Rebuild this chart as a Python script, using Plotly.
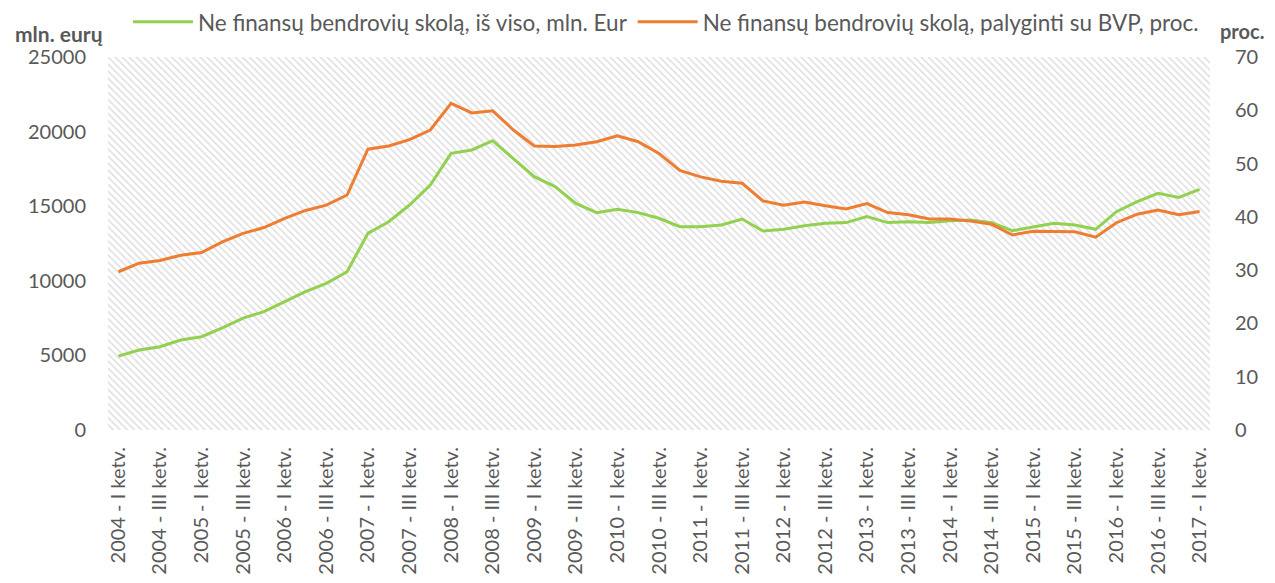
import plotly.graph_objects as go

years = list(range(2004, 2018))
quarters = ["I", "II", "III", "IV"]
categories = [f"{y} - {q} ketv." for y in years for q in quarters][:53]

debt_mln = [4950, 5360, 5580, 6030, 6250, 6840, 7500, 7930, 8600, 9270, 9830, 10610,
            13180, 13960, 15080, 16420, 18540, 18770, 19390, 18210, 16980, 16310, 15190, 14570,
            14790, 14570, 14190, 13630, 13630, 13740, 14140, 13340, 13450, 13690, 13850, 13900,
            14300, 13900, 13960, 13900, 14030, 14070, 13900, 13360, 13630, 13850, 13740, 13450,
            14630, 15300, 15860, 15590, 16130]
debt_gdp = [29.7, 31.3, 31.8, 32.8, 33.3, 35.3, 36.9, 38.0, 39.7, 41.2, 42.2, 44.1,
            52.7, 53.3, 54.5, 56.3, 61.3, 59.5, 59.9, 56.3, 53.3, 53.2, 53.5, 54.1,
            55.2, 54.1, 51.9, 48.7, 47.5, 46.7, 46.3, 43.0, 42.2, 42.8, 42.1, 41.5,
            42.5, 40.8, 40.4, 39.6, 39.6, 39.2, 38.6, 36.6, 37.3, 37.3, 37.2, 36.2,
            38.9, 40.5, 41.3, 40.4, 41.0]

left_ticks = [0, 5000, 10000, 15000, 20000, 25000]
right_ticks = [0, 10, 20, 30, 40, 50, 60, 70]

name_green = "Ne finansų bendrovių skolą, iš viso, mln. Eur"
name_orange = "Ne finansų bendrovių skolą, palyginti su BVP, proc."

idx = list(range(len(categories)))
x_range = [-0.5, len(categories) - 0.5]
y_range = [0, 25000]
y2_range = [0, 70]

grey = "#595959"
font_family = "Lato, 'Open Sans', sans-serif"

fig = go.Figure()

# hatched plot-area background
fig.add_trace(go.Scatter(
    x=[x_range[0], x_range[1], x_range[1], x_range[0], x_range[0]],
    y=[y_range[0], y_range[0], y_range[1], y_range[1], y_range[0]],
    mode="none", fill="toself", fillcolor="rgba(0,0,0,0)",
    fillpattern=dict(shape="\\", fgcolor="#bdbdbd", bgcolor="white", size=5, solidity=0.3),
    showlegend=False, hoverinfo="skip", xaxis="x", yaxis="y"))

fig.add_trace(go.Scatter(x=idx, y=debt_mln, name=name_green, mode="lines",
                         line=dict(color="#92D050", width=3), yaxis="y"))
fig.add_trace(go.Scatter(x=idx, y=debt_gdp, name=name_orange, mode="lines",
                         line=dict(color="#ED7D31", width=3), yaxis="y2"))

fig.update_layout(
    width=1259, height=567,
    margin=dict(l=100, r=57, t=49, b=145, autoexpand=False),
    paper_bgcolor="white", plot_bgcolor="white",
    font=dict(family=font_family, color=grey, size=20),
    showlegend=True,
    legend=dict(orientation="h", x=0.5226, xanchor="center", xref="container",
                y=0.975, yref="container", yanchor="middle",
                font=dict(size=22.5, color=grey), tracegroupgap=0, itemwidth=60,
                bgcolor="rgba(0,0,0,0)"),
    xaxis=dict(range=x_range, tickmode="array", tickvals=idx[::2], ticktext=categories[::2],
               tickangle=-90, showgrid=False, zeroline=False, showline=False, ticks="",
               tickfont=dict(size=20, color=grey), automargin=False, ticklabelstandoff=12),
    yaxis=dict(range=y_range, tickmode="array", tickvals=left_ticks,
               ticktext=[str(v) for v in left_ticks], showgrid=False, zeroline=False,
               showline=False, ticks="", tickfont=dict(size=20, color=grey),
               automargin=False, ticklabelstandoff=21),
    yaxis2=dict(range=y2_range, tickmode="array", tickvals=right_ticks,
                ticktext=[str(v) for v in right_ticks], overlaying="y", side="right",
                showgrid=False, zeroline=False, showline=False, ticks="",
                tickfont=dict(size=20, color=grey), automargin=False, ticklabelstandoff=24),
)

fig.add_annotation(text="<b>mln. eurų</b>", xref="paper", yref="paper",
                   x=-0.0445, y=1.062, xanchor="center", yanchor="middle",
                   showarrow=False, font=dict(size=21, color=grey))
fig.add_annotation(text="<b>proc.</b>", xref="paper", yref="paper",
                   x=1.029, y=1.070, xanchor="center", yanchor="middle",
                   showarrow=False, font=dict(size=20, color=grey))

fig.write_html("out.html")
